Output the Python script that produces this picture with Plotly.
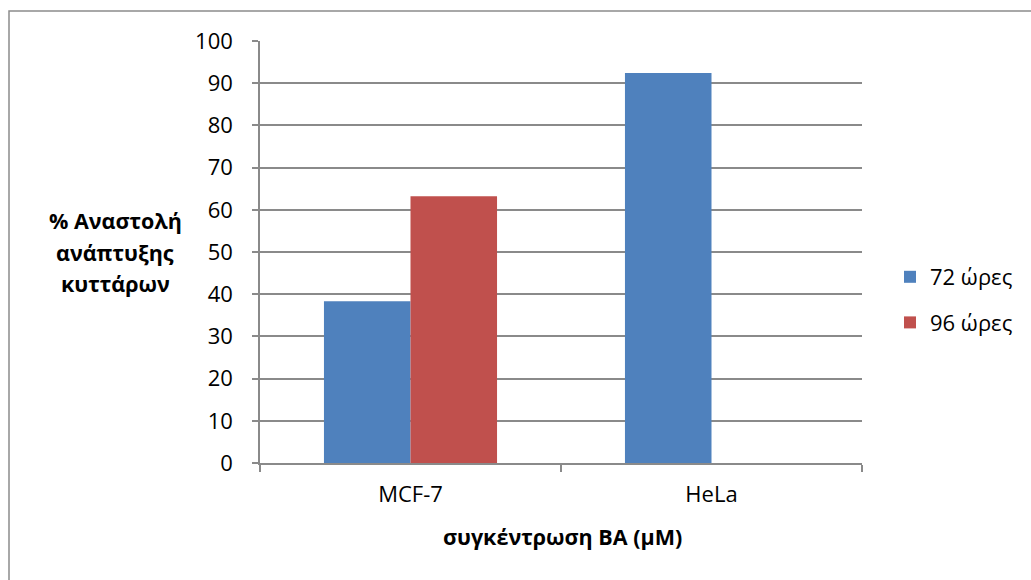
import plotly.graph_objects as go

# Cell lines and growth-inhibition percentages per exposure time
cell_lines = ["MCF-7", "HeLa"]
inhibition_72h = [38.3, 92.4]
inhibition_96h = [63.2, None]
series_names = ["72 ώρες", "96 ώρες"]
y_title_lines = ["% Αναστολή", "ανάπτυξης", "κυττάρων"]
x_title = "συγκέντρωση BA (μM)"

W, H = 1031, 580
L, R, T, B = 260, 169, 41, 117
pw, ph = W - L - R, H - T - B

FONT = "Open Sans, Noto Sans, sans-serif"
GRID = "#8a8a8a"


def px_x(px):
    return (px - L) / pw


def px_y(py):
    return (H - B - py) / ph


fig = go.Figure()
fig.add_trace(go.Bar(x=cell_lines, y=inhibition_72h, name=series_names[0],
                     marker=dict(color="#4F81BD", line=dict(width=0)),
                     legendgroup="a"))
fig.add_trace(go.Bar(x=cell_lines, y=inhibition_96h, name=series_names[1],
                     marker=dict(color="#C0504D", line=dict(width=0)),
                     legendgroup="b"))

fig.update_layout(
    width=W, height=H,
    margin=dict(l=L, r=R, t=T, b=B),
    paper_bgcolor="white", plot_bgcolor="white",
    font=dict(family=FONT, size=22, color="#000000"),
    barmode="group", bargap=0.425, bargroupgap=0,
    showlegend=True,
    legend=dict(x=px_x(890), y=px_y(256), xanchor="left", yanchor="top",
                font=dict(size=22), tracegroupgap=14, traceorder="grouped",
                bgcolor="rgba(0,0,0,0)"),
)

fig.update_xaxes(
    type="category", range=[-0.5, 1.5],
    showline=True, linecolor=GRID, linewidth=1.5,
    ticks="outside", ticklen=7, tickcolor=GRID, tickwidth=1.5,
    tickson="boundaries", showgrid=False, ticklabelstandoff=11,
)
fig.update_yaxes(
    range=[0, 100], dtick=10,
    showline=True, linecolor=GRID, linewidth=1.5,
    ticks="outside", ticklen=6, tickcolor=GRID, tickwidth=1.5,
    showgrid=True, gridcolor=GRID, gridwidth=1.5, zeroline=False,
    ticklabelstandoff=15,
)

# Outer chart frame
fig.add_shape(type="rect", xref="paper", yref="paper",
              x0=px_x(9), x1=px_x(1045), y0=px_y(595), y1=px_y(11),
              line=dict(color="#8c8c8c", width=1.5), fillcolor="rgba(0,0,0,0)",
              layer="below")

# Horizontal y-axis title, one line at a time
for i, line in enumerate(y_title_lines):
    fig.add_annotation(text=line, xref="paper", yref="paper",
                       x=px_x(115), y=px_y(221 + 31 * i),
                       xanchor="center", yanchor="middle", showarrow=False,
                       font=dict(size=21.5, family=FONT, weight="bold"))

fig.add_annotation(text=x_title, xref="paper", yref="paper",
                   x=px_x(562), y=px_y(536), xanchor="center", yanchor="middle",
                   showarrow=False, font=dict(size=21.5, family=FONT, weight="bold"))

fig.write_html("out.html")
